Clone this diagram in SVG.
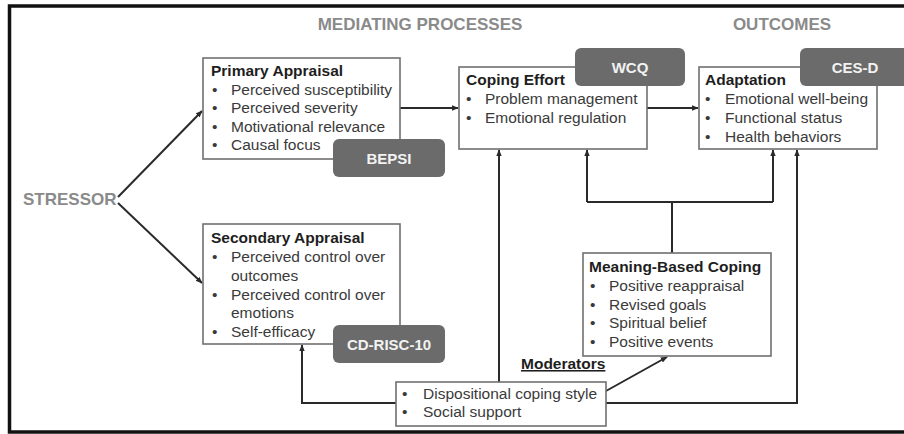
<svg xmlns="http://www.w3.org/2000/svg" width="904" height="434" viewBox="0 0 904 434">
<defs>
<marker id="ah" viewBox="0 0 10 10" refX="9" refY="5" markerWidth="7" markerHeight="7" markerUnits="userSpaceOnUse" orient="auto">
<path d="M0,1 L10,5 L0,9 Z" fill="#2a2a2a"/>
</marker>
<style>
.frame{fill:#fff;stroke:#111;stroke-width:3.5}
.box{fill:#fff;stroke:#707070;stroke-width:1.6}
.badge{fill:#6b6b6b}
.bt{font-family:"Liberation Sans",Arial,sans-serif;font-weight:bold;font-size:15px;fill:#f2f2f2;text-anchor:middle}
.title{font-family:"Liberation Sans",Arial,sans-serif;font-weight:bold;font-size:15.5px;fill:#1e1e1e}
.item{font-family:"Liberation Sans",Arial,sans-serif;font-size:15.5px;fill:#3a3a3a}
.head{font-family:"Liberation Sans",Arial,sans-serif;font-weight:bold;font-size:17px;fill:#8a8a8a}
.conn{fill:none;stroke:#2a2a2a;stroke-width:2}
</style>
</defs>
<rect x="9.5" y="6" width="905" height="426" class="frame"/>
<text class="head" x="420" y="30" text-anchor="middle">MEDIATING PROCESSES</text>
<text class="head" x="782" y="30" text-anchor="middle">OUTCOMES</text>

<g id="connectors">
<path class="conn" d="M118,197 L202,111" marker-end="url(#ah)"/>
<path class="conn" d="M118,203 L202,283" marker-end="url(#ah)"/>
<path class="conn" d="M400,108 L458,108" marker-end="url(#ah)"/>
<path class="conn" d="M647,108 L698,108" marker-end="url(#ah)"/>
<path class="conn" d="M672,253 L672,202"/>
<path class="conn" d="M587,202 L773,202"/>
<path class="conn" d="M587,202 L587,150" marker-end="url(#ah)"/>
<path class="conn" d="M773,202 L773,150" marker-end="url(#ah)"/>
<path class="conn" d="M499,382 L499,150" marker-end="url(#ah)"/>
<path class="conn" d="M606,403 L797,403 L797,150" marker-end="url(#ah)"/>
<path class="conn" d="M396,403 L302,403 L302,345" marker-end="url(#ah)"/>
<path class="conn" d="M606,391 L667,357" marker-end="url(#ah)"/>
</g>

<g id="stressor">
<text class="head" x="23" y="205">STRESSOR</text>
</g>

<g id="primary-appraisal">
<rect class="box" x="203" y="58" width="197" height="101"/>
<text class="title" x="211" y="76">Primary Appraisal</text>
<text class="item" x="212" y="94.5">•</text><text class="item" x="231" y="94.5">Perceived susceptibility</text>
<text class="item" x="212" y="113">•</text><text class="item" x="231" y="113">Perceived severity</text>
<text class="item" x="212" y="131.5">•</text><text class="item" x="231" y="131.5">Motivational relevance</text>
<text class="item" x="212" y="150">•</text><text class="item" x="231" y="150">Causal focus</text>
</g>
<g id="bepsi">
<rect class="badge" x="333" y="139" width="112" height="38" rx="6"/>
<text class="bt" x="389" y="164">BEPSI</text>
</g>

<g id="secondary-appraisal">
<rect class="box" x="203" y="224" width="197" height="120"/>
<text class="title" x="211" y="243">Secondary Appraisal</text>
<text class="item" x="212" y="262">•</text><text class="item" x="231" y="262">Perceived control over</text>
<text class="item" x="231" y="281">outcomes</text>
<text class="item" x="212" y="300">•</text><text class="item" x="231" y="300">Perceived control over</text>
<text class="item" x="231" y="318">emotions</text>
<text class="item" x="212" y="337">•</text><text class="item" x="231" y="337">Self-efficacy</text>
</g>
<g id="cd-risc-10">
<rect class="badge" x="333" y="325" width="112" height="38" rx="6"/>
<text class="bt" x="389" y="350">CD-RISC-10</text>
</g>

<g id="coping-effort">
<rect class="box" x="459" y="67" width="188" height="82"/>
<text class="title" x="466" y="85">Coping Effort</text>
<text class="item" x="466" y="104">•</text><text class="item" x="485" y="104">Problem management</text>
<text class="item" x="466" y="123">•</text><text class="item" x="485" y="123">Emotional regulation</text>
</g>
<g id="wcq">
<rect class="badge" x="575" y="48" width="110" height="38" rx="6"/>
<text class="bt" x="630" y="73">WCQ</text>
</g>

<g id="adaptation">
<rect class="box" x="699" y="67" width="178" height="82"/>
<text class="title" x="705" y="85">Adaptation</text>
<text class="item" x="705" y="104">•</text><text class="item" x="725" y="104">Emotional well-being</text>
<text class="item" x="705" y="123">•</text><text class="item" x="725" y="123">Functional status</text>
<text class="item" x="705" y="141.5">•</text><text class="item" x="725" y="141.5">Health behaviors</text>
</g>
<g id="ces-d">
<rect class="badge" x="800" y="48" width="112" height="38" rx="6"/>
<text class="bt" x="855" y="73">CES-D</text>
</g>

<g id="meaning-based-coping">
<rect class="box" x="583" y="253" width="188" height="103"/>
<text class="title" x="589" y="272">Meaning-Based Coping</text>
<text class="item" x="590" y="291">•</text><text class="item" x="609" y="291">Positive reappraisal</text>
<text class="item" x="590" y="309.5">•</text><text class="item" x="609" y="309.5">Revised goals</text>
<text class="item" x="590" y="328">•</text><text class="item" x="609" y="328">Spiritual belief</text>
<text class="item" x="590" y="347">•</text><text class="item" x="609" y="347">Positive events</text>
</g>

<g id="moderators">
<text class="title" x="521" y="369" text-decoration="underline">Moderators</text>
<rect class="box" x="396" y="382" width="210" height="44"/>
<text class="item" x="402" y="398.5">•</text><text class="item" x="423" y="398.5">Dispositional coping style</text>
<text class="item" x="402" y="417">•</text><text class="item" x="423" y="417">Social support</text>
</g>
</svg>
